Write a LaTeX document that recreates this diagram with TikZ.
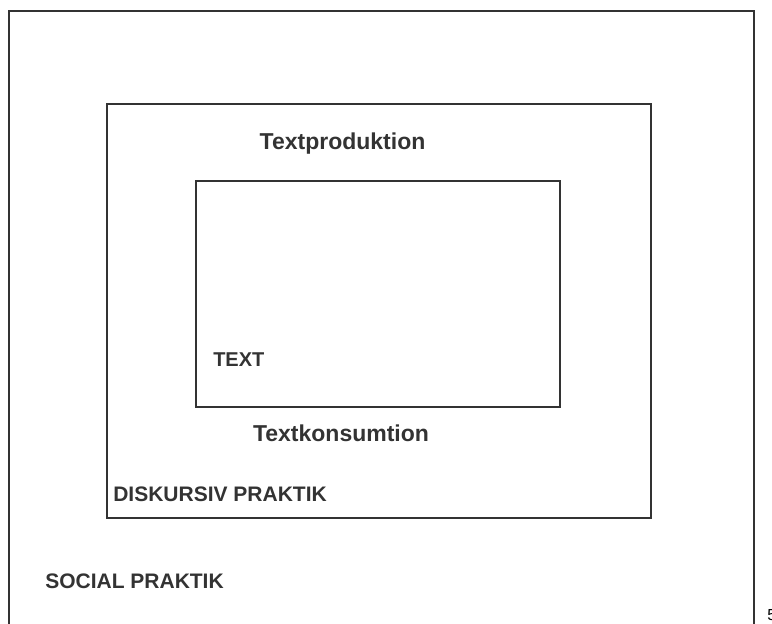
\documentclass[tikz,border=0pt]{standalone}
\usepackage{fontspec}
\setmainfont{Liberation Sans}
\usetikzlibrary{fit}

\definecolor{inkgray}{HTML}{333333}

\begin{document}
\begin{tikzpicture}[
  x=0.75pt, y=-0.75pt,
  frame/.style={draw=inkgray, line width=1.4pt, inner sep=0pt},
  lbl/.style={text=inkgray, inner sep=0pt, font=\fontsize{15.75pt}{18pt}\selectfont\bfseries},
  proc/.style={lbl, anchor=base, font=\fontsize{17.25pt}{20pt}\selectfont\bfseries},
]
  %% Canvas (picture is cut at the lower edge)
  \clip (0,0) rectangle (772,624);

  %% Nested frames
  \node[frame, fit={(9,11) (754,650)}] (social) {};
  \node[frame, fit={(107,104) (651,518)}] (diskursiv) {};
  \node[frame, fit={(196,181) (560,407)}] (text) {};

  %% Labels
  \node[proc] (produktion) at (342.5,150) {Textproduktion};
  \node[proc] (konsumtion) at (341,441) {Textkonsumtion};
  \node[lbl, anchor=base west, font=\fontsize{15pt}{18pt}\selectfont\bfseries]
    (textlbl) at (213,366) {TEXT};
  \node[lbl, anchor=base west] (diskursivlbl) at (113,501) {DISKURSIV PRAKTIK};
  \node[lbl, anchor=base west] (sociallbl) at (45,588) {SOCIAL PRAKTIK};

  %% Page number, cut off at the corner
  \node[anchor=base west, inner sep=0pt, font=\fontsize{12pt}{14pt}\selectfont]
    (pagenum) at (767,620) {5};
\end{tikzpicture}
\end{document}
